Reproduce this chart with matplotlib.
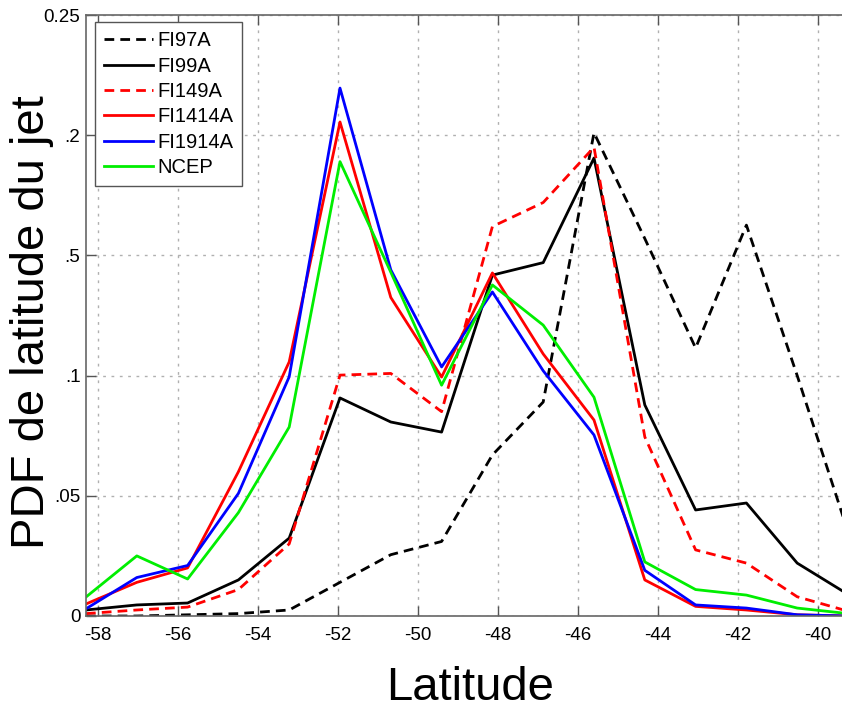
import numpy as np
import matplotlib
matplotlib.use('Agg')
import matplotlib.pyplot as plt

# Latitude grid of the PDFs (read from the vertices)
lat = [-58.3, -57.03, -55.76, -54.49, -53.22, -51.95, -50.68, -49.41,
       -48.14, -46.87, -45.6, -44.33, -43.06, -41.79, -40.52, -39.25]

fi97a = [0.0, 0.0, 0.0005, 0.001, 0.0025, 0.014, 0.0255, 0.031,
         0.067, 0.089, 0.201, 0.157, 0.1115, 0.1626, 0.100, 0.035]
fi99a = [0.0025, 0.0046, 0.0054, 0.015, 0.0324, 0.0907, 0.0807, 0.0765,
         0.1418, 0.147, 0.1905, 0.0878, 0.0441, 0.047, 0.022, 0.009]
fi149a = [0.001, 0.0025, 0.0037, 0.011, 0.030, 0.1002, 0.1009, 0.085,
          0.162, 0.172, 0.195, 0.0745, 0.0275, 0.022, 0.008, 0.002]
fi1414a = [0.005, 0.014, 0.020, 0.060, 0.1057, 0.2055, 0.1325, 0.0994,
           0.1427, 0.109, 0.0815, 0.015, 0.004, 0.0025, 0.0005, 0.0]
fi1914a = [0.003, 0.016, 0.021, 0.051, 0.0995, 0.2196, 0.144, 0.1036,
           0.1348, 0.102, 0.0753, 0.019, 0.0046, 0.0033, 0.0005, 0.0]
ncep = [0.0079, 0.025, 0.0154, 0.043, 0.0786, 0.189, 0.143, 0.096,
        0.1377, 0.121, 0.091, 0.0225, 0.011, 0.0087, 0.0033, 0.001]

xticks = [-58, -56, -54, -52, -50, -48, -46, -44, -42, -40]
yticks = [0, 0.05, 0.1, 0.15, 0.2, 0.25]
ytick_labels = ['0', '.05', '.1', '.5', '.2', '0.25']

plt.rcParams['font.family'] = ['Liberation Sans', 'DejaVu Sans']

fig = plt.figure(figsize=(8.42, 7.11), dpi=100)
ax = fig.add_axes([86 / 842, 95 / 711, 772 / 842, 601 / 711])

# Plot the six series
dash = (0, (3.5, 2.2))
ax.plot(lat, fi97a, color='black', lw=2.0, ls=dash, label='FI97A')
ax.plot(lat, fi99a, color='black', lw=2.0, label='FI99A')
ax.plot(lat, fi149a, color='red', lw=2.0, ls=dash, label='FI149A')
ax.plot(lat, fi1414a, color='red', lw=2.0, label='FI1414A')
ax.plot(lat, fi1914a, color='blue', lw=2.0, label='FI1914A')
ax.plot(lat, ncep, color='#00ee00', lw=2.0, label='NCEP')

ax.set_xlim(-58.3, -39.0)
ax.set_ylim(0, 0.25)
ax.set_xticks(xticks)
ax.set_xticklabels([str(t) for t in xticks], fontsize=13.5)
ax.set_yticks(yticks)
ax.set_yticklabels(ytick_labels, fontsize=13.5)

# MATLAB-like look
ax.grid(True, ls=(0, (2, 4)), color='#b0b0b0', lw=1.0)
ax.tick_params(direction='in', length=7, width=1, color='#555555',
               top=True, pad=8)
ax.tick_params(axis='y', pad=4)
for side in ['left', 'top', 'bottom']:
    ax.spines[side].set_color('#666666')
    ax.spines[side].set_linewidth(1.2)
ax.spines['right'].set_visible(False)

# axis titles placed where the reference has them
fig.text(470 / 842, 1 - 688 / 711, 'Latitude', fontsize=34,
         ha='center', va='center')
fig.text(32 / 842, 1 - 322 / 711, 'PDF de latitude du jet', fontsize=34,
         rotation=90, ha='center', va='center')

leg = ax.legend(loc='upper left', bbox_to_anchor=(-0.002, 1.005),
                fontsize=14.5, handlelength=2.45, handletextpad=0.2,
                labelspacing=0.32, borderpad=0.45, fancybox=False,
                framealpha=1)
leg.get_frame().set_edgecolor('#555555')
leg.get_frame().set_linewidth(1.0)

fig.savefig('out.png', dpi=100)
